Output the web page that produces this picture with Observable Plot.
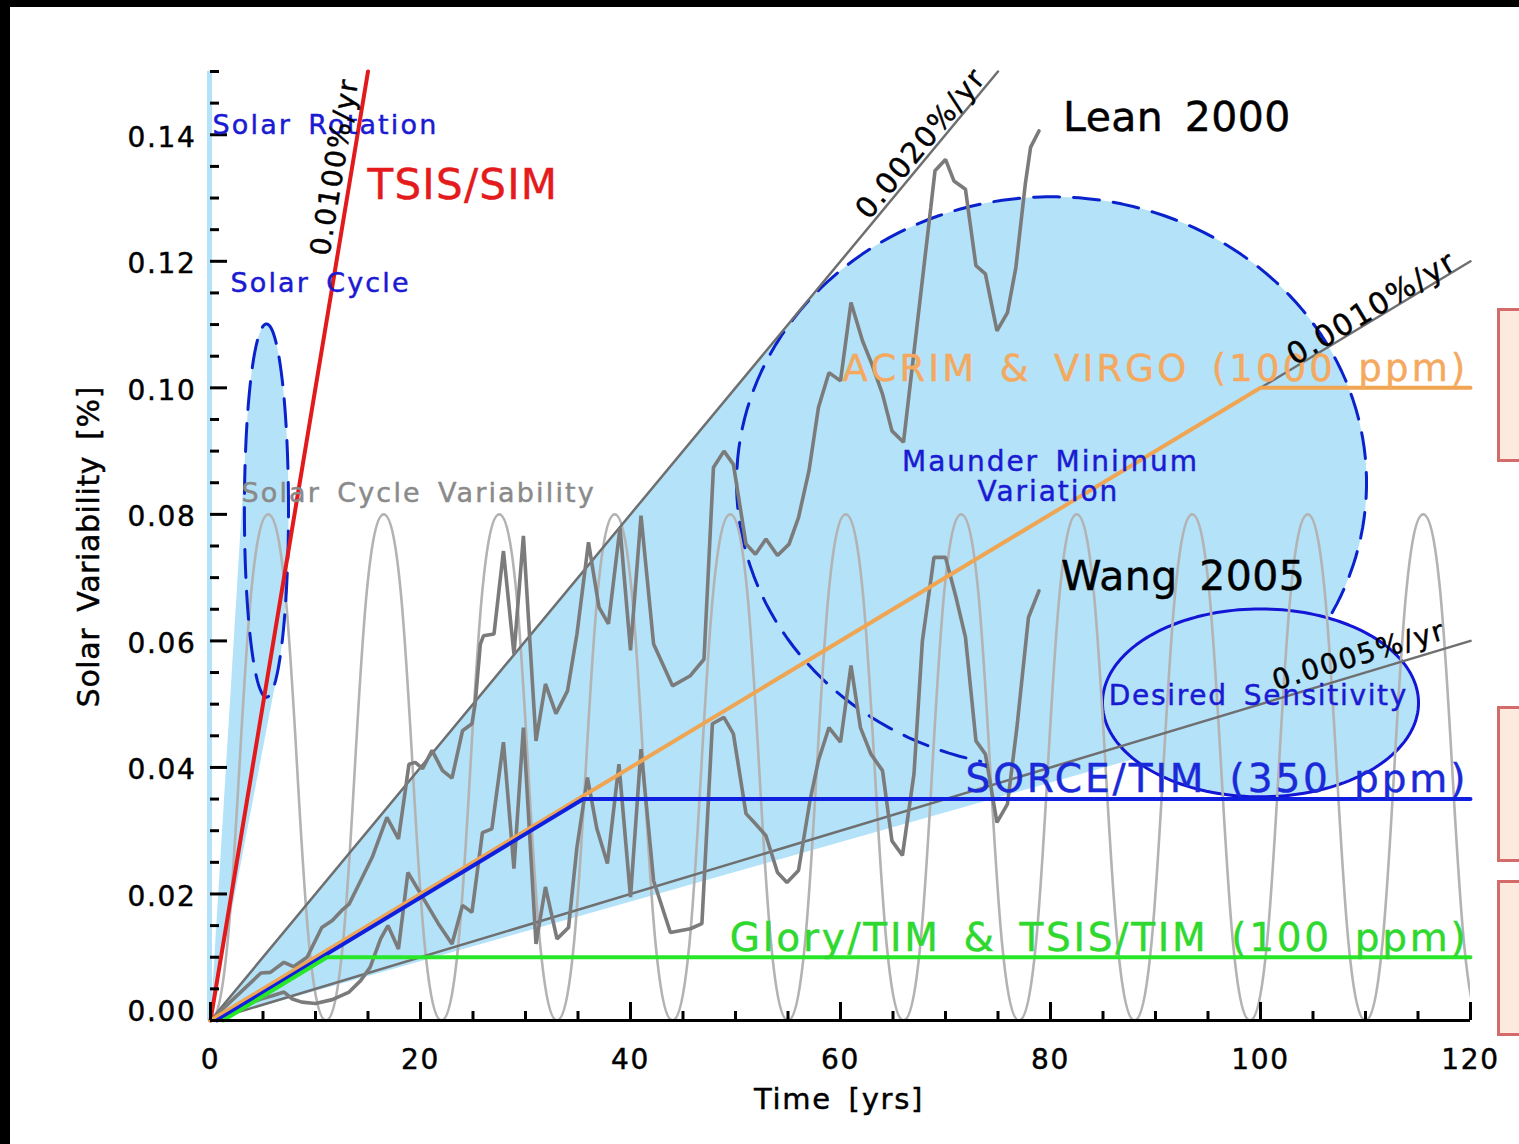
<!DOCTYPE html>
<html><head><meta charset="utf-8">
<script src="https://cdn.jsdelivr.net/npm/d3@7"></script>
<script src="https://cdn.jsdelivr.net/npm/@observablehq/plot@0.6"></script>
<style>
html,body{margin:0;padding:0;background:#fff;}
#wrap{position:relative;width:1519px;height:1144px;overflow:hidden;background:#fff;}
#chart{position:absolute;left:0;top:0;}
.band{position:absolute;background:#000;}
.box{position:absolute;box-sizing:border-box;border:3px solid #d46a6a;background:#fdeadf;}
svg text{letter-spacing:0.06em;word-spacing:0.2em;}
</style></head><body>
<div id="wrap"><div id="chart"></div>
<div class="box" style="left:1497px;top:308px;width:60px;height:154px"></div>
<div class="box" style="left:1497px;top:706px;width:60px;height:156px"></div>
<div class="box" style="left:1497px;top:880px;width:60px;height:156px"></div>
<div class="band" style="left:0;top:0;width:1519px;height:7px"></div>
<div class="band" style="left:0;top:0;width:10px;height:1144px"></div>
</div>
<script>
// ---------------- data ----------------
const xTicks = [0, 20, 40, 60, 80, 100, 120];
const yTicks = [0, 0.02, 0.04, 0.06, 0.08, 0.10, 0.12, 0.14];

// solar cycle variability: extrema of the ~11-yr cycle
const cycleYears  = [0, 5.5, 11, 16.5, 22, 27.5, 33, 38.5, 44, 49.5, 55, 60.5, 66, 71.5, 77, 82.5, 88, 93.5, 99, 104.5, 110, 115.5, 121];
const cycleValues = [0, 0.08, 0, 0.08, 0, 0.08, 0, 0.08, 0, 0.08, 0, 0.08, 0, 0.08, 0, 0.08, 0, 0.08, 0, 0.08, 0, 0.08, 0];

const leanYears = [0, 4.8, 5.7, 7.0, 7.9, 9.2, 10.6, 11.6, 12.5, 13.2, 14.3, 15.4, 16.8, 17.9, 18.6, 18.9, 19.5, 20.2, 21.1, 22.1, 23.0, 24.0, 24.9, 25.2, 25.7, 26.0, 27.0, 27.9, 28.9, 29.8, 31.0, 31.9, 32.9, 34.0, 34.9, 36.0, 37.0, 37.9, 39.0, 40.0, 41.0, 42.2, 44.0, 45.7, 47.0, 47.9, 48.9, 49.8, 51.0, 51.9, 52.9, 54.0, 55.1, 56.0, 57.0, 57.9, 58.9, 60.0, 61.0, 62.1, 63.0, 64.0, 64.9, 66.0, 68.6, 69.0, 70.0, 70.8, 71.9, 72.9, 73.8, 74.9, 75.9, 76.7, 77.6, 78.1, 78.9];
const leanValues = [0, 0.0075, 0.0076, 0.0092, 0.0085, 0.0100, 0.0147, 0.0158, 0.0174, 0.0184, 0.0221, 0.0258, 0.0321, 0.0287, 0.0369, 0.0405, 0.0408, 0.0398, 0.0427, 0.0395, 0.0383, 0.0458, 0.0469, 0.0500, 0.0595, 0.0608, 0.0611, 0.0742, 0.0579, 0.0766, 0.0442, 0.0532, 0.0485, 0.0521, 0.0611, 0.0756, 0.0653, 0.0627, 0.0779, 0.0585, 0.0798, 0.0595, 0.0529, 0.0545, 0.0571, 0.0874, 0.0900, 0.0879, 0.0753, 0.0737, 0.0761, 0.0735, 0.0753, 0.0795, 0.0869, 0.0969, 0.1024, 0.1011, 0.1135, 0.1074, 0.1037, 0.0990, 0.0932, 0.0914, 0.1285, 0.1343, 0.1361, 0.1327, 0.1314, 0.1193, 0.1180, 0.1090, 0.1119, 0.1190, 0.1322, 0.1380, 0.1406];

const wangYears = [0, 2.7, 4.8, 5.9, 7.0, 7.8, 8.7, 10.0, 11.6, 13.2, 14.3, 15.2, 16.2, 16.9, 17.9, 18.8, 20.2, 21.7, 23.0, 24.0, 24.9, 25.9, 26.8, 27.9, 28.9, 29.8, 31.0, 31.9, 33.0, 34.1, 34.9, 35.9, 36.8, 37.8, 38.9, 40.0, 41.0, 42.2, 43.8, 45.7, 46.8, 47.8, 48.9, 49.8, 51.0, 51.9, 52.9, 54.0, 54.9, 56.0, 57.1, 57.9, 58.9, 60.0, 61.0, 61.9, 62.9, 64.0, 64.9, 65.9, 67.0, 67.8, 68.9, 70.0, 71.0, 71.9, 72.9, 73.8, 74.9, 75.9, 76.8, 77.9, 78.9];
const wangValues = [0, 0.0021, 0.0034, 0.0039, 0.0045, 0.0034, 0.0029, 0.0027, 0.0033, 0.0045, 0.0063, 0.0084, 0.0129, 0.0150, 0.0113, 0.0234, 0.0195, 0.0153, 0.0121, 0.0182, 0.0171, 0.0297, 0.0303, 0.0440, 0.0240, 0.0463, 0.0121, 0.0211, 0.0129, 0.0147, 0.0274, 0.0384, 0.0303, 0.0248, 0.0405, 0.0195, 0.0429, 0.0221, 0.0139, 0.0145, 0.0153, 0.0469, 0.0479, 0.0453, 0.0327, 0.0311, 0.0292, 0.0234, 0.0218, 0.0237, 0.0348, 0.0411, 0.0463, 0.0440, 0.0561, 0.0463, 0.0421, 0.0395, 0.0284, 0.0261, 0.0390, 0.0600, 0.0732, 0.0732, 0.0669, 0.0606, 0.0442, 0.0421, 0.0313, 0.0342, 0.0463, 0.0637, 0.0679];

// linear drift rates (%/yr) and the year where each drawn line ends
const rateNames  = ["0.0100%/yr", "0.0020%/yr", "0.0010%/yr", "0.0005%/yr"];
const rateSlopes = [0.01, 0.002, 0.001, 0.0005];
const rateEndYears = [15, 75, 120, 120];

// instrument accuracy curves
const acrimYears = [0, 100, 120];   const acrimValues = [0, 0.10, 0.10];
const sorceYears = [0.6, 35.5, 120]; const sorceValues = [0, 0.035, 0.035];
const gloryYears = [1.2, 11.1, 120]; const gloryValues = [0, 0.01, 0.01];

// variability regions (ellipses in data units)
const regionNames   = ["Solar Cycle", "Maunder Minimum Variation", "Desired Sensitivity"];
const regionCenterX = [5.33, 80.1, 100];
const regionCenterY = [0.0806, 0.0850, 0.0502];
const regionRadiusX = [2.1, 30.0, 15.05];
const regionRadiusY = [0.0295, 0.0452, 0.01485];

// ---------------- layout ----------------
const W = 1519, H = 1144, ML = 210, MR = 49, MT = 71, MB = 124;
const XMAX = 120, YMAX = 0.15;
const kx = (W - ML - MR) / XMAX, ky = (H - MT - MB) / YMAX;
const angleOf = s => -Math.atan(s * ky / kx) * 180 / Math.PI;

const FILL = "#b3e2f9";
const BLUE = "#1a1ad2";

const zip = (xs, ys) => xs.map((x, i) => ({x, y: ys[i]}));
const cycle = zip(cycleYears, cycleValues);
const lean = zip(leanYears, leanValues);
const wang = zip(wangYears, wangValues);

function ellipse(i, from = 0, to = 360) {
  return d3.range(from, to + 0.001, 2).map(a => ({
    x: regionCenterX[i] + regionRadiusX[i] * Math.cos(a * Math.PI / 180),
    y: regionCenterY[i] + regionRadiusY[i] * Math.sin(a * Math.PI / 180)
  }));
}
function wedge(i) { // triangle from the origin to the two tangent points of the ellipse
  const cx = regionCenterX[i], cy = regionCenterY[i], rx = regionRadiusX[i], ry = regionRadiusY[i];
  const px = -cx / rx, py = -cy / ry;
  const d = Math.hypot(px, py), phi = Math.atan2(py, px), da = Math.acos(1 / d);
  const pts = [phi + da, phi - da].map(a => ({x: cx + rx * Math.cos(a), y: cy + ry * Math.sin(a)}));
  return [{x: 0, y: 0}, ...pts];
}

// annotation layout (positions in data units)
const notes = [
  {text: "Solar Rotation", x: 0.19, y: 0.1401, anchor: "start", size: 27, color: BLUE, ls: 0.08},
  {text: "TSIS/SIM", x: 14.95, y: 0.1299, anchor: "start", size: 42, color: "#e41a1c", ls: 0.03},
  {text: "Solar Cycle", x: 1.9, y: 0.1151, anchor: "start", size: 27, color: BLUE, ls: 0.08},
  {text: "Solar Cycle Variability", x: 2.95, y: 0.0819, anchor: "start", size: 27, color: "#8a8a8a", ls: 0.08},
  {text: "Lean 2000", x: 81.2, y: 0.1406, anchor: "start", size: 41, color: "#000", ls: 0.01},
  {text: "ACRIM & VIRGO (1000 ppm)", x: 119.8, y: 0.1011, anchor: "end", size: 37, color: "#f4a95f", ls: 0.085},
  {text: "Maunder Minimum", x: 80, y: 0.0869, anchor: "middle", size: 28, color: BLUE, ls: 0.07},
  {text: "Variation", x: 79.8, y: 0.0821, anchor: "middle", size: 28, color: BLUE, ls: 0.07},
  {text: "Wang 2005", x: 81, y: 0.0681, anchor: "start", size: 41, color: "#000", ls: 0.01},
  {text: "Desired Sensitivity", x: 99.8, y: 0.0499, anchor: "middle", size: 28, color: BLUE, ls: 0.06},
  {text: "SORCE/TIM (350 ppm)", x: 119.8, y: 0.0361, anchor: "end", size: 39, color: "#1a2ad8", ls: 0.075},
  {text: "Glory/TIM & TSIS/TIM (100 ppm)", x: 119.8, y: 0.01106, anchor: "end", size: 39, color: "#2ed82e", ls: 0.07}
];
const rateNotes = [
  {i: 0, at: 12.05, off: 8, size: 28},
  {i: 1, at: 63.0, off: 4, size: 29},
  {i: 2, at: 103.3, off: 1, size: 30},
  {i: 3, at: 101.7, off: 9, size: 28}
];

// ---------------- marks ----------------
const marks = [];
// solar rotation strip along the y axis
marks.push(Plot.ruleX([0], {y1: 0, y2: YMAX, stroke: FILL, strokeWidth: 5, dx: -1}));
// filled regions
[0, 1].forEach(i => {
  marks.push(Plot.line(wedge(i), {x: "x", y: "y", fill: FILL, stroke: "none", curve: "linear-closed"}));
  marks.push(Plot.line(ellipse(i), {x: "x", y: "y", fill: FILL, stroke: "none", curve: "linear-closed"}));
});
marks.push(Plot.line(ellipse(1, -27, 258), {x: "x", y: "y", stroke: "#0a22cc", strokeWidth: 3, strokeDasharray: "26,14"}));
marks.push(Plot.line(ellipse(2), {x: "x", y: "y", fill: FILL, stroke: "#1515d5", strokeWidth: 3, curve: "linear-closed"}));
// solar cycle variability
marks.push(Plot.line(cycle, {x: "x", y: "y", curve: "bump-x", stroke: "#b3b3b3", strokeWidth: 2.6, clip: true}));
// drift-rate lines
rateSlopes.forEach((s, i) => {
  if (i === 0) return;
  marks.push(Plot.line([{x: 0, y: 0}, {x: rateEndYears[i], y: s * rateEndYears[i]}], {x: "x", y: "y", stroke: "#6f6f6f", strokeWidth: 2.5}));
});
// Lean & Wang reconstructions
marks.push(Plot.line(lean, {x: "x", y: "y", stroke: "#7b7b7b", strokeWidth: 3.6, strokeLinejoin: "miter"}));
marks.push(Plot.line(wang, {x: "x", y: "y", stroke: "#7b7b7b", strokeWidth: 3.6, strokeLinejoin: "miter"}));
// solar cycle dashed ellipse
marks.push(Plot.line(ellipse(0), {x: "x", y: "y", stroke: "#0a22cc", strokeWidth: 3, strokeDasharray: "28,14", curve: "linear-closed"}));
// TSIS/SIM red line
marks.push(Plot.line([{x: 0, y: 0}, {x: rateEndYears[0], y: rateSlopes[0] * rateEndYears[0]}], {x: "x", y: "y", stroke: "#e31a1c", strokeWidth: 4}));
// instruments
marks.push(Plot.line(zip(acrimYears, acrimValues), {x: "x", y: "y", stroke: "#f0a552", strokeWidth: 4}));
marks.push(Plot.line(zip(sorceYears, sorceValues), {x: "x", y: "y", stroke: "#0f1fe0", strokeWidth: 4}));
marks.push(Plot.line(zip(gloryYears, gloryValues), {x: "x", y: "y", stroke: "#28e628", strokeWidth: 4}));

// axes: bottom line and inward ticks
const xMinor = d3.range(0, 121, 5).filter(d => d % 20 !== 0);
const yMinor = d3.range(1, 31).map(d => d * 0.005).filter((d, i) => (i + 1) % 4 !== 0);
marks.push(Plot.ruleY([0], {x1: 0, x2: XMAX, stroke: "#000", strokeWidth: 3}));
marks.push(Plot.ruleX(xTicks, {x: d => d, y1: 0, y2: 18 / ky, stroke: "#000", strokeWidth: 3}));
marks.push(Plot.ruleX(xMinor, {x: d => d, y1: 0, y2: 9 / ky, stroke: "#000", strokeWidth: 3}));
marks.push(Plot.ruleY(yTicks, {y: d => d, x1: 0, x2: 17 / kx, stroke: "#000", strokeWidth: 3}));
marks.push(Plot.ruleY(yMinor, {y: d => d, x1: 0, x2: 9 / kx, stroke: "#000", strokeWidth: 3}));
marks.push(Plot.axisX({ticks: xTicks, tickSize: 0, tickPadding: 29, fontSize: 28, tickFormat: d => String(d), label: null}));
marks.push(Plot.axisY({ticks: yTicks.slice(1), tickSize: 0, tickPadding: 14, fontSize: 28, dy: 3, tickFormat: d => d.toFixed(2), label: null}));
marks.push(Plot.axisY({ticks: [0], tickSize: 0, tickPadding: 14, fontSize: 28, dy: -8, tickFormat: d => d.toFixed(2), label: null}));
marks.push(Plot.text(["Time [yrs]"], {x: 59.86, frameAnchor: "bottom", dy: 88, lineAnchor: "bottom", textAnchor: "middle", fontSize: 29, fill: "#000"}));
marks.push(Plot.text(["Solar Variability [%]"], {y: 0.0749, frameAnchor: "left", dx: -112, rotate: -90, lineAnchor: "bottom", textAnchor: "middle", fontSize: 30, fill: "#000"}));

// annotations
notes.forEach(n => marks.push(Plot.text([n], {x: "x", y: "y", text: "text", textAnchor: n.anchor, lineAnchor: "bottom", fontSize: n.size, fill: n.color})));
rateNotes.forEach(r => {
  const s = rateSlopes[r.i], a = angleOf(s), rad = a * Math.PI / 180;
  marks.push(Plot.text([{x: r.at, y: s * r.at, t: rateNames[r.i]}], {
    x: "x", y: "y", text: "t", rotate: a, textAnchor: "start", lineAnchor: "bottom",
    dx: r.off * Math.sin(rad), dy: -r.off * Math.cos(rad), fontSize: r.size, fill: "#000"
  }));
});

const chart = Plot.plot({
  width: W, height: H,
  marginLeft: ML, marginRight: MR, marginTop: MT, marginBottom: MB,
  x: {domain: [0, XMAX]},
  y: {domain: [0, YMAX]},
  style: {fontFamily: "DejaVu Sans", background: "transparent", overflow: "visible", color: "#000"},
  marks
});
chart.querySelectorAll("text").forEach(t => {
  const n = notes.find(d => d.text === t.textContent);
  if (n && n.ls != null) t.style.letterSpacing = n.ls + "em";
  if (t.textContent === "Solar Variability [%]") t.style.letterSpacing = "0.02em";
  const f = t.getAttribute("fill") || t.parentNode.getAttribute("fill") || "#000";
  t.setAttribute("stroke", f);
  t.setAttribute("stroke-width", 0.45);
});
document.getElementById("chart").appendChild(chart);
</script>
</body></html>
